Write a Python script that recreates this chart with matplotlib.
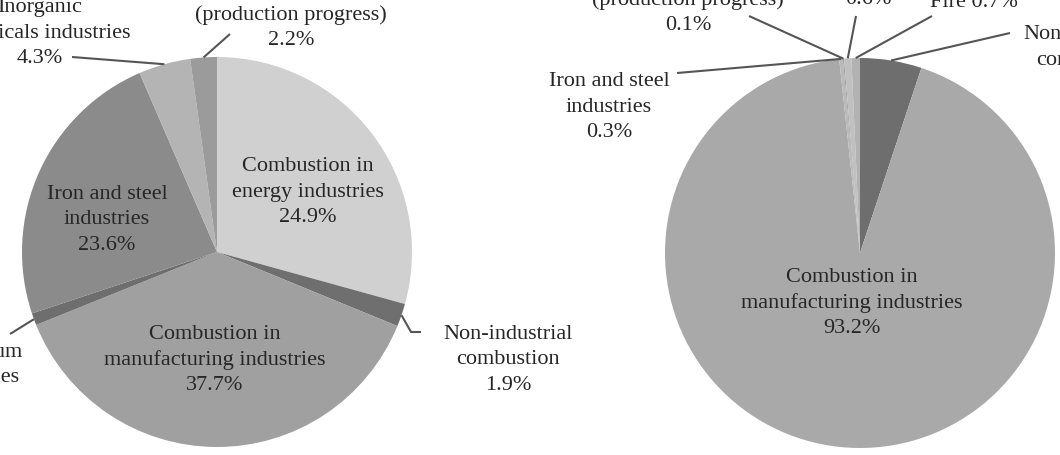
"""Two pie charts: emission share by source (left and right panels)."""

import numpy as np
import matplotlib

matplotlib.use("Agg")

import matplotlib.pyplot as plt

W, H = 1060, 456

# --- Data ---
left_names = [
    "Combustion in\nenergy industries",
    "Non-industrial\ncombustion",
    "Combustion in\nmanufacturing industries",
    "Petroleum\nindustries",
    "Iron and steel\nindustries",
    "Inorganic\nchemicals industries",
    "Other industries\n(production progress)",
]
left_values = [24.9, 1.9, 37.7, 1.0, 23.6, 4.3, 2.2]

right_names = [
    "Non-industrial\ncombustion",
    "Combustion in\nmanufacturing industries",
    "Iron and steel\nindustries",
    "Other industries\n(production progress)",
    "Petroleum\nindustries",
    "Fire",
]
right_values = [5.1, 93.2, 0.3, 0.1, 0.6, 0.7]

# --- Style ---
left_colors = ["#d0d0d0", "#6f6f6f", "#a0a0a0", "#6e6e6e", "#8b8b8b", "#b4b4b4", "#9b9b9b"]
right_colors = ["#6e6e6e", "#a9a9a9", "#b9b9b9", "#a0a0a0", "#c0c0c0", "#b2b2b2"]
TEXT = "#262626"
LEADER = "#555555"
FONT = "Liberation Serif"
FS = 16
LINESPACING = 1.45

LEFT_CENTER, RIGHT_CENTER = (217, 253), (860, 254)
RADIUS = 195

# label centres (image pixels, from top-left) and leader end points
left_text_pos = [(308, 192), (508, 360), (215, 360), (-23, 378), (107, 220), (40, 33), (291, 15)]
left_leaders = {1: [(411, 333), (421, 333)], 3: [(10, 335)], 5: [(72, 58)], 6: [(230, 35)]}

right_text_pos = [(1088, 60), (852, 303), (609, 107), (688, 0), (868, -26), (974, 2)]
right_leaders = {0: [(1010, 34)], 2: [(677, 74)], 3: [(749, 17)], 4: [(856, 17)], 5: [(932, 17)]}


def px(x, y):
    return x, H - y


def draw_pie(ax, values, names, colors, center, text_pos, leaders, fill_first=False):
    sizes = list(values)
    if fill_first:
        # the first slice also takes the share not covered by the labelled values
        sizes[0] += 100 - sum(values)
    wedges, _ = ax.pie(
        sizes,
        colors=colors,
        startangle=90,
        counterclock=False,
        center=px(*center),
        radius=RADIUS,
        normalize=True,
        wedgeprops=dict(linewidth=0),
    )

    cx, cy = px(*center)
    for i, (name, v) in enumerate(zip(names, values)):
        label = f"{name} {v:.1f}%" if name == "Fire" else f"{name}\n{v:.1f}%"
        ax.text(*px(*text_pos[i]), label, ha="center", va="center",
                fontsize=FS, family=FONT, color=TEXT, linespacing=LINESPACING)
        if i in leaders:
            w = wedges[i]
            mid = np.deg2rad((w.theta1 + w.theta2) / 2)
            xs = [cx + RADIUS * np.cos(mid)]
            ys = [cy + RADIUS * np.sin(mid)]
            for p in leaders[i]:
                x, y = px(*p)
                xs.append(x)
                ys.append(y)
            ax.plot(xs, ys, color=LEADER, lw=1.5, solid_capstyle="butt", zorder=5)


fig = plt.figure(figsize=(W / 100, H / 100), dpi=100)
fig.patch.set_facecolor("white")
ax = fig.add_axes([0, 0, 1, 1])

draw_pie(ax, left_values, left_names, left_colors, LEFT_CENTER,
         left_text_pos, left_leaders, fill_first=True)
draw_pie(ax, right_values, right_names, right_colors, RIGHT_CENTER,
         right_text_pos, right_leaders)

ax.set_xlim(0, W)
ax.set_ylim(0, H)
ax.set_aspect("equal")
ax.axis("off")

fig.savefig("out.png", dpi=100)
